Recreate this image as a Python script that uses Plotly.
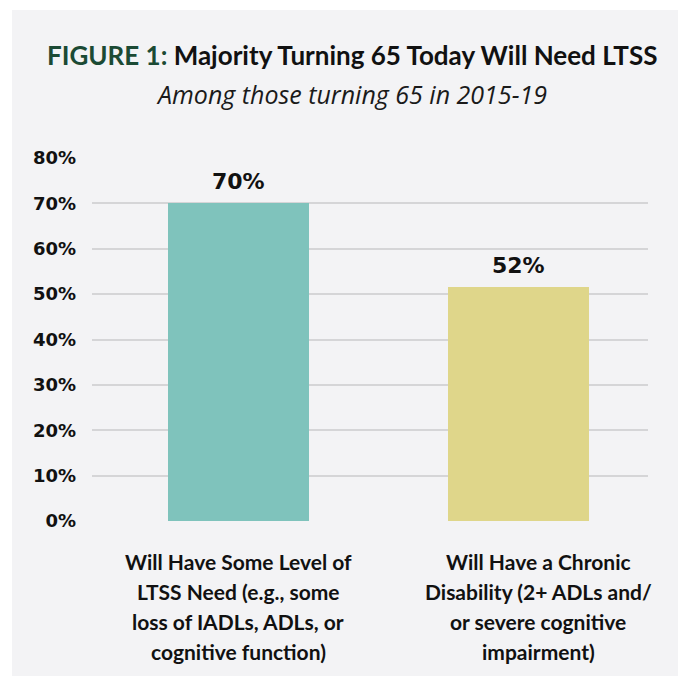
import plotly.graph_objects as go

# Datos del gráfico
categorias = ["Algún nivel de LTSS", "Discapacidad crónica"]
valores = [70, 51.5]
etiquetas_valor = ["70%", "52%"]
colores = ["#7fc3bc", "#dfd68a"]
lineas_categoria = [
    ["Will Have Some Level of", "LTSS Need (e.g., some", "loss of IADLs, ADLs, or", "cognitive function)"],
    ["Will Have a Chronic", "Disability (2+ ADLs and/", "or severe cognitive", "impairment)"],
]
titulo = "FIGURE 1:"
titulo_resto = "Majority Turning 65 Today Will Need LTSS"
subtitulo = "Among those turning 65 in 2015-19"

FUENTE_TITULO = "Lato, Open Sans, sans-serif"
FUENTE_SUB = "Open Sans, Lato, sans-serif"
FUENTE_EJES = "DejaVu Sans, Verdana, sans-serif"

fig = go.Figure()

fig.add_trace(go.Bar(x=[0, 1], y=valores, width=0.504,
                     marker=dict(color=colores, line=dict(width=0)),
                     hoverinfo="skip", showlegend=False))

# Etiquetas de valor sobre las barras
for i, (v, t) in enumerate(zip(valores, etiquetas_valor)):
    fig.add_annotation(x=i, y=v, text=t, showarrow=False, yanchor="bottom",
                       yshift=7, font=dict(family=FUENTE_EJES, size=22,
                                           color="#111111", weight="bold"))

# Etiquetas de categoría (una línea por anotación)
desplaz = [0, 20]
for i, lineas in enumerate(lineas_categoria):
    for j, linea in enumerate(lineas):
        fig.add_annotation(x=i, xref="x", y=0, yref="paper", text=linea,
                           showarrow=False, yanchor="middle",
                           xshift=desplaz[i], yshift=-(40.3 + j * 30.2),
                           font=dict(family=FUENTE_TITULO, size=21,
                                     color="#111111", weight="bold"))

# Título y subtítulo
fig.add_annotation(x=0.4676, xref="paper", y=1.283, yref="paper",
                   text="<span style='color:#1b4a34'>" + titulo + "</span> " + titulo_resto,
                   showarrow=False, yanchor="middle",
                   font=dict(family=FUENTE_TITULO, size=26, color="#111111", weight="bold"))
fig.add_annotation(x=0.4676, xref="paper", y=1.1755, yref="paper",
                   text="<i>" + subtitulo + "</i>", showarrow=False, yanchor="middle",
                   font=dict(family=FUENTE_SUB, size=25, color="#1a1a1a"))

# Panel gris de fondo
fig.add_shape(type="rect", xref="paper", yref="paper", layer="below",
              x0=-0.1439, x1=1.1, y0=-0.5, y1=1.4077,
              fillcolor="#f3f3f5", line=dict(width=0))

fig.update_layout(
    width=678, height=676,
    margin=dict(l=92, r=30, t=158, b=155),
    paper_bgcolor="white",
    plot_bgcolor="rgba(0,0,0,0)",
    bargap=0,
    xaxis=dict(range=[-0.523, 1.4625], showticklabels=False, showgrid=False,
               zeroline=False, showline=False, fixedrange=True),
    yaxis=dict(range=[0, 80], dtick=10, ticksuffix="%", showgrid=True,
               gridcolor="#d5d5d7", gridwidth=1.5, zeroline=False,
               showline=False, ticklabelstandoff=15,
               tickfont=dict(family=FUENTE_EJES, size=18, color="#111111", weight="bold"),
               fixedrange=True),
)

# quitar el margen y las barras de desplazamiento del body
fig.write_html("out.html", config={"displayModeBar": False},
               post_script="document.body.style.margin='0';document.body.style.overflow='hidden';")
